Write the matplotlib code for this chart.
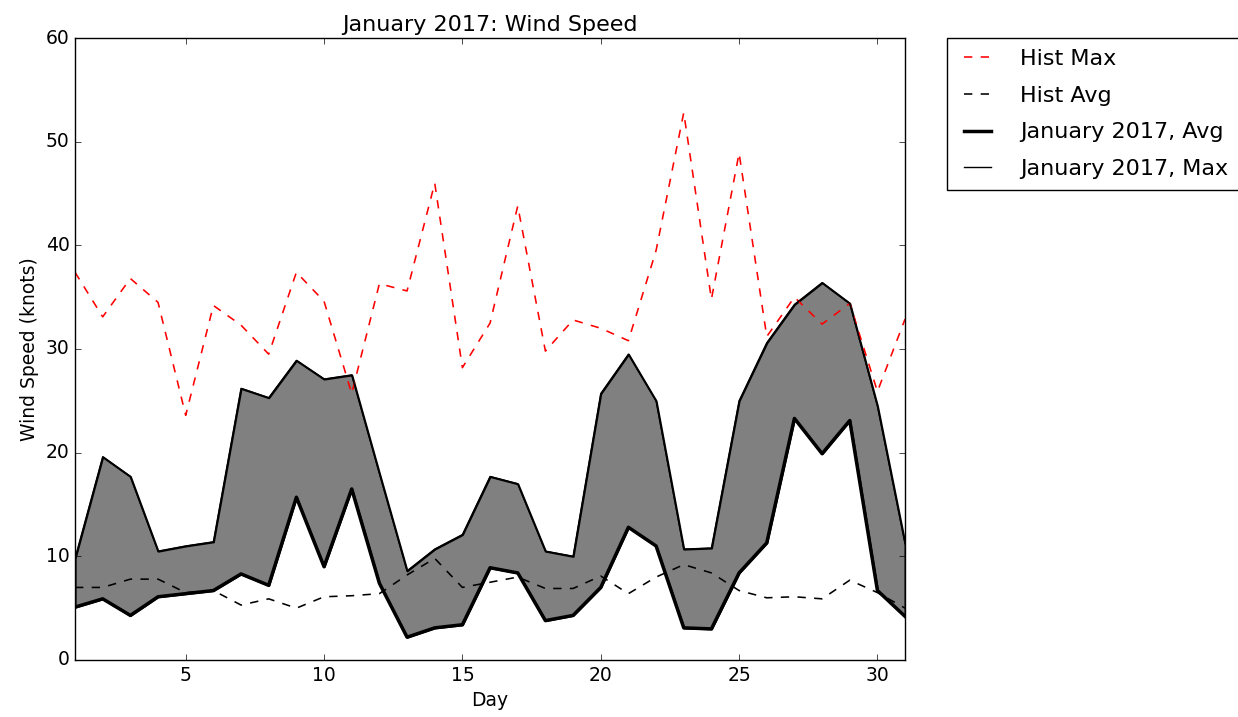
# %% January 2017 wind speed vs history

# %% Imports
import matplotlib
matplotlib.use('Agg')
import matplotlib.pyplot as plt
import numpy as np

# %% Data
days = np.arange(1, 32)

hist_max = [37.4, 33.1, 36.8, 34.5, 23.6, 34.2, 32.3, 29.5, 37.4, 34.6,
            25.7, 36.3, 35.6, 46.0, 28.2, 32.5, 43.8, 29.8, 32.8, 32.0,
            30.8, 39.5, 52.8, 34.8, 48.9, 31.2, 35.0, 32.4, 34.4, 25.9,
            32.9]
hist_avg = [7.0, 7.0, 7.8, 7.8, 6.5, 6.7, 5.3, 5.9, 5.0, 6.1,
            6.2, 6.4, 8.2, 9.8, 7.0, 7.5, 8.0, 6.9, 6.9, 8.1,
            6.4, 8.0, 9.2, 8.4, 6.7, 6.0, 6.1, 5.9, 7.7, 6.5,
            5.0]
jan_avg = [5.1, 5.9, 4.3, 6.1, 6.4, 6.7, 8.3, 7.2, 15.7, 9.0,
           16.5, 7.4, 2.2, 3.1, 3.4, 8.9, 8.4, 3.8, 4.3, 7.0,
           12.8, 11.0, 3.1, 3.0, 8.4, 11.3, 23.3, 19.9, 23.1, 6.7,
           4.2]
jan_max = [9.8, 19.6, 17.7, 10.5, 11.0, 11.4, 26.2, 25.3, 28.9, 27.1,
           27.5, 18.0, 8.6, 10.7, 12.1, 17.7, 17.0, 10.5, 10.0, 25.7,
           29.5, 25.0, 10.7, 10.8, 25.0, 30.6, 34.3, 36.4, 34.4, 24.5,
           11.2]

# %% Plot
plt.style.use('classic')
plt.rcParams['font.size'] = 13.5
plt.rcParams['legend.fontsize'] = 16
plt.rcParams['axes.titlesize'] = 16

fig = plt.figure(figsize=(12.38, 7.17), dpi=100, facecolor='white')
ax = fig.add_axes([0.0606, 0.0795, 0.6705, 0.8675])

ax.plot(days, hist_max, 'r--', linewidth=1.15, label='Hist Max')
ax.plot(days, hist_avg, 'k--', linewidth=1.15, label='Hist Avg')
ax.plot(days, jan_avg, 'k-', linewidth=2.5, label='January 2017, Avg')
ax.plot(days, jan_max, 'k-', linewidth=1, label='January 2017, Max')
ax.fill_between(days, jan_avg, jan_max, facecolor='grey', edgecolor='k',
                linewidth=1.5)

ax.set_xlim(1, 31)
ax.set_ylim(0, 60)
ax.set_title('January 2017: Wind Speed')
ax.set_xlabel('Day')
ax.set_ylabel('Wind Speed (knots)')
ax.legend(bbox_to_anchor=(1.05, 1), loc=2, borderaxespad=0.,
          handlelength=1.8, handletextpad=1.0, labelspacing=0.75,
          borderpad=0.5)

fig.savefig('out.png', dpi=100, facecolor='white')
